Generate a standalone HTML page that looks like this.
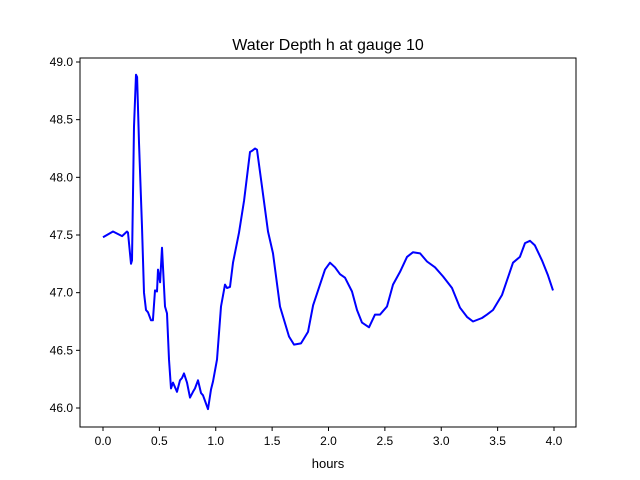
<!DOCTYPE html>
<html><head><meta charset="utf-8"><style>
body{margin:0;background:#fff;}
svg{display:block;font-family:"Liberation Sans","DejaVu Sans",sans-serif;}
</style></head><body>
<svg id="chart" width="640" height="480">
<rect width="640" height="480" fill="#fff"/>
<text x="328" y="50" text-anchor="middle" font-size="16">Water Depth h at gauge 10</text>
<g id="plot"></g>
<text x="328" y="468" text-anchor="middle" font-size="13">hours</text>
</svg>
<script>
const xs=[0.0,0.089,0.169,0.213,0.222,0.248,0.257,0.275,0.293,0.302,0.319,0.346,0.364,0.381,0.399,0.426,0.443,0.461,0.479,0.488,0.506,0.523,0.532,0.550,0.568,0.585,0.603,0.621,0.656,0.683,0.701,0.718,0.745,0.772,0.798,0.816,0.843,0.869,0.887,0.931,0.958,0.976,1.011,1.047,1.082,1.100,1.126,1.153,1.206,1.251,1.304,1.322,1.348,1.366,1.410,1.463,1.508,1.570,1.650,1.694,1.756,1.818,1.863,1.969,2.013,2.058,2.102,2.146,2.208,2.253,2.297,2.359,2.412,2.457,2.519,2.572,2.634,2.696,2.749,2.812,2.874,2.945,3.016,3.095,3.166,3.228,3.282,3.361,3.406,3.459,3.539,3.636,3.698,3.743,3.787,3.831,3.894,3.947,3.991];
const depth=[47.48,47.53,47.49,47.53,47.52,47.25,47.28,48.44,48.89,48.87,48.30,47.57,47.00,46.85,46.83,46.76,46.76,47.02,47.01,47.20,47.09,47.39,47.22,46.88,46.82,46.42,46.17,46.22,46.14,46.24,46.26,46.30,46.22,46.09,46.14,46.17,46.24,46.13,46.11,45.99,46.16,46.23,46.42,46.88,47.07,47.04,47.05,47.26,47.52,47.80,48.22,48.23,48.25,48.24,47.92,47.53,47.34,46.88,46.62,46.55,46.56,46.66,46.89,47.20,47.26,47.22,47.16,47.13,47.01,46.85,46.74,46.70,46.81,46.81,46.88,47.07,47.18,47.31,47.35,47.34,47.27,47.22,47.14,47.04,46.87,46.79,46.75,46.78,46.81,46.85,46.98,47.26,47.31,47.43,47.45,47.41,47.28,47.15,47.02];
const xTicks=[0.0,0.5,1.0,1.5,2.0,2.5,3.0,3.5,4.0];
const yTicks=[46.0,46.5,47.0,47.5,48.0,48.5,49.0];
const L=80,R=576,T=58,B=427;
const sx=v=>103+v*112.75;
const sy=v=>62+(49-v)*115.33;
const g=document.getElementById('plot');
const NS='http://www.w3.org/2000/svg';
function mk(t,a){const e=document.createElementNS(NS,t);for(const k in a)e.setAttribute(k,a[k]);g.appendChild(e);return e;}
const pts=xs.map((x,i)=>sx(x).toFixed(1)+','+sy(depth[i]).toFixed(1)).join(' ');
const line=mk('polyline',{points:pts,fill:'none',stroke:'#0000ff','stroke-width':2,'stroke-linejoin':'round'});


xTicks.forEach(v=>{
  const t=mk('line',{x1:sx(v),x2:sx(v),y1:B,y2:B+4,stroke:'#000','stroke-width':1});
  
  
  const l=mk('text',{x:sx(v),y:B+18,'text-anchor':'middle','font-size':12});
  l.textContent=v.toFixed(1);
  
  
});
yTicks.forEach(v=>{
  const t=mk('line',{x1:L-4,x2:L,y1:sy(v),y2:sy(v),stroke:'#000','stroke-width':1});
  
  
  const l=mk('text',{x:L-7,y:sy(v)+4,'text-anchor':'end','font-size':12});
  l.textContent=v.toFixed(1);
  
  
});
const frame=mk('rect',{x:L,y:T,width:R-L,height:B-T,fill:'none',stroke:'#000','stroke-width':1});


</script>
</body></html>
